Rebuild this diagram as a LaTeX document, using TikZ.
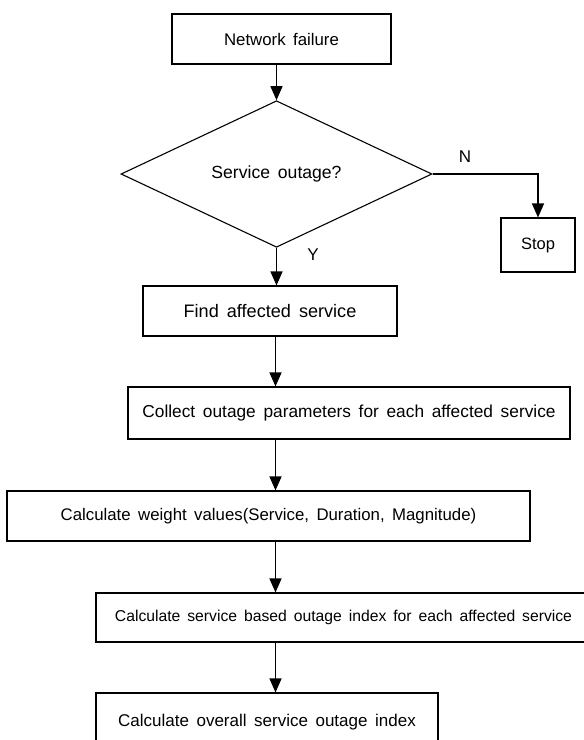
\documentclass[tikz,border=0pt]{standalone}
\usepackage{fontspec}
\setmainfont{Liberation Sans}[WordSpace=1.6]
\usetikzlibrary{shapes.geometric,arrows.meta}
\tikzset{
  box/.style={draw, line width=1.1pt, rectangle, inner sep=0pt, anchor=center},
  dec/.style={draw, line width=1.1pt, diamond, inner sep=0pt, anchor=center},
  arr/.style={line width=1.3pt, -{Triangle[width=12pt,length=14pt]}},
  fs/.style={font={\fontsize{#1}{#1}\selectfont}},
  lab/.style={font={\fontsize{17}{17}\selectfont}, inner sep=0pt}
}
\begin{document}
\begin{tikzpicture}[x=1pt,y=-1pt]
\useasboundingbox (0,0) rectangle (584,740);
\clip (0,0) rectangle (584,740);
\node[box, fs=16.8, minimum width=219pt, minimum height=50pt] (net) at (281.5,39) {Network failure};
\node[dec, fs=17.6, minimum width=311pt, minimum height=122pt] (q) at (276.5,174) {Service outage?};
\node[box, fs=16.5, minimum width=74pt, minimum height=54pt] (stop) at (538,245) {Stop};
\node[box, fs=18.1, minimum width=254pt, minimum height=50pt] (find) at (270,311) {Find affected service};
\node[box, fs=17.3, minimum width=442pt, minimum height=52pt] (coll) at (349,413) {Collect outage parameters for each affected service};
\node[box, fs=16.8, minimum width=523pt, minimum height=50pt] (weight) at (268.5,516) {Calculate weight values(Service, Duration, Magnitude)};
\node[box, fs=15.7, minimum width=495pt, minimum height=49pt] (based) at (343.5,617.5) {Calculate service based outage index for each affected service};
\node[box, fs=17.0, minimum width=342pt, minimum height=58pt] (overall) at (267,722) {Calculate overall service outage index};
\node[lab] (nlab) at (465,157) {N};
\node[lab] (ylab) at (313,255) {Y};
\coordinate (sp) at (275.5,0);
\draw[arr] (q.north |- net.south) -- (q.north);
\draw[arr] (q.south) -- (q.south |- find.north);
\draw[arr] (q.east) -| (stop.north);
\draw[arr] (sp |- find.south) -- (sp |- coll.north);
\draw[arr] (sp |- coll.south) -- (sp |- weight.north);
\draw[arr] (sp |- weight.south) -- (sp |- based.north);
\draw[arr] (sp |- based.south) -- (sp |- overall.north);
\end{tikzpicture}
\end{document}
